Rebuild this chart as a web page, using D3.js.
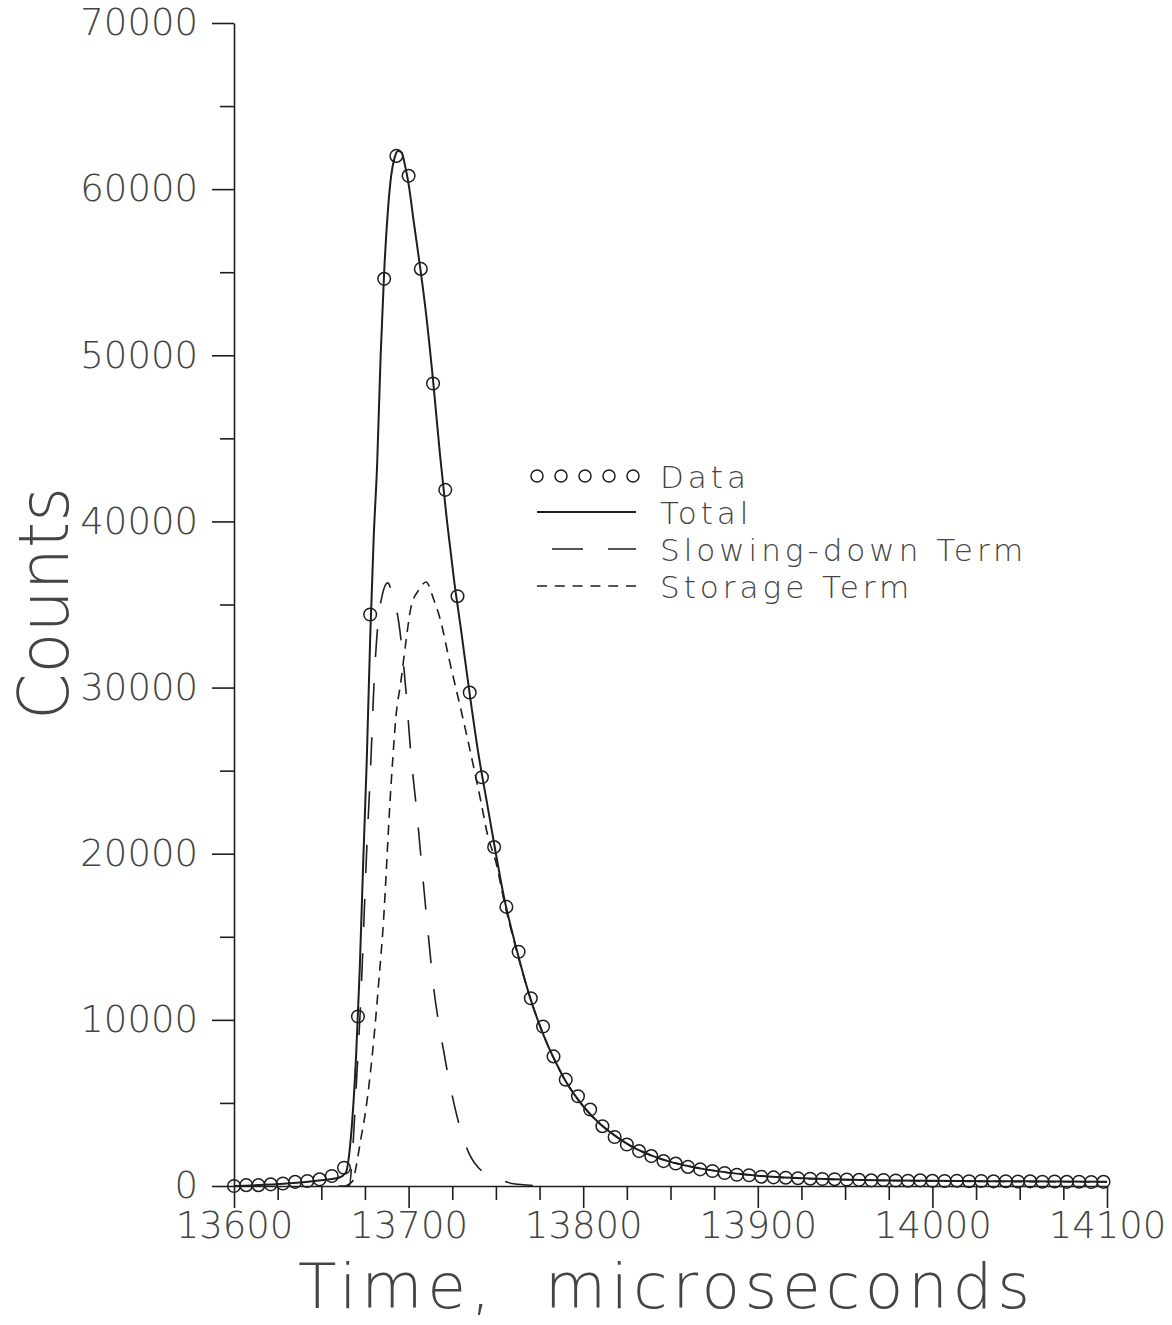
<!DOCTYPE html>
<html>
<head>
<meta charset="utf-8">
<script src="https://cdn.jsdelivr.net/npm/d3@7"></script>
<style>
  html, body { margin: 0; padding: 0; background: #ffffff; }
  svg { display: block; }
</style>
</head>
<body>
<svg id="chart" width="1172" height="1325"></svg>
<script>
// ---------------- DATA ----------------
const dataTime = [13600,13607,13614,13621,13628,13635,13642,13649,13656,13663,
  13671,13678,13686,13693,13700,13707,13714,13721,13728,13735,
  13742,13749,13756,13763,13770,13777,13783,13790,13797,13804,
  13811,13818,13825,13832,13839,13846,13853,13860,13867,13874,
  13881,13888,13895,13902,13909,13916,13923,13930,13937,13944,
  13951,13958,13965,13972,13979,13986,13993,14000,14007,14014,
  14021,14028,14035,14042,14049,14056,14063,14070,14077,14084,
  14091,14098];
const dataCounts = [0,50,50,100,150,250,300,400,600,1100,
  10200,34400,54600,62000,60800,55200,48300,41900,35500,29700,
  24600,20400,16800,14100,11300,9600,7800,6400,5400,4600,
  3600,2950,2500,2100,1800,1500,1350,1150,1000,900,
  780,680,650,560,520,500,470,440,420,410,
  390,370,340,360,330,320,340,310,300,320,
  290,300,280,290,270,280,260,270,250,260,
  240,250];

const totalTime = [13600,13630,13650,13660,13664,13667,13670,13672,13674,13676,
  13678,13680,13682,13684,13686,13688,13690,13692,13694,13696,
  13698,13700,13703,13707,13710,13714,13718,13722,13726,13730,
  13735,13740,13745,13750,13755,13760,13765,13770,13775,13780,
  13785,13790,13795,13800,13810,13820,13830,13840,13850,13860,
  13870,13880,13890,13900,13920,13940,13960,13980,14000,14050,14100];
const totalCounts = [0,150,350,500,800,3000,8000,13000,19500,25500,
  33000,39000,43500,50000,55000,58500,60800,61900,62300,62200,
  61400,60300,58000,55000,52500,48500,44000,40000,36500,33500,
  29600,26000,23000,20000,17200,15000,13000,11200,9700,8400,
  7300,6300,5500,4800,3700,2900,2250,1800,1450,1200,
  1000,850,720,620,490,420,360,330,310,280,250];

const slowTime = [13660,13666,13668,13670,13672.6,13676,13678.4,13680,13682.4,13685,
  13688,13691,13694.4,13698.4,13701.3,13704.7,13707.6,13711,13714.4,13719.6,
  13725.9,13730,13735.6,13740,13747,13761,13780];
const slowCounts = [0,0,2200,6000,11200,20200,25600,29800,33800,35600,
  36300,35500,33900,29900,26000,22500,19200,15400,11900,8400,
  5000,3300,1750,1100,660,120,0];

const storTime = [13664,13668,13670,13672.6,13675.5,13679.5,13683,13686,13687,13689,
  13691,13692.7,13695.5,13698.4,13701.3,13706,13710,13714.4,13718.4,13723,
  13727,13731,13734,13737.3,13741.3,13745.3,13750,13755,13760,13770,
  13780,13790,13800,13820,13840,13860,13880,13900,13940,14000,14100];
const storCounts = [0,300,1200,2800,4600,8200,12400,16600,18500,22500,
  25800,28200,30300,32700,34800,35900,36350,35300,34000,31800,
  30000,28200,26800,25200,23200,21100,19500,17000,14900,11200,
  8400,6300,4800,2900,1800,1200,850,620,400,300,250];

const xMajorTicks = [13600,13700,13800,13900,14000,14100];
const xTickLabels = ["13600","13700","13800","13900","14000","14100"];
const xMinorTicks = [13625,13650,13675,13725,13750,13775,13825,13850,13875,13925,13950,13975,14025,14050,14075];
const yMajorTicks = [0,10000,20000,30000,40000,50000,60000,70000];
const yTickLabels = ["0","10000","20000","30000","40000","50000","60000","70000"];
const yMinorTicks = [5000,15000,25000,35000,45000,55000,65000];

const legendLabels = ["Data","Total","Slowing-down Term","Storage Term"];
const xTitle = "Time,\u00A0\u00A0microseconds";
const yTitle = "Counts";

// ---------------- DRAW ----------------
const svg = d3.select("#chart");
const ink = "#1e1e1e";
const textInk = "#444";
const font = "'DejaVu Sans', sans-serif";

const x = d3.scaleLinear().domain([13600, 14100]).range([234, 1107]);
const y = d3.scaleLinear().domain([0, 70000]).range([1186, 23]);

// axes - minor ticks
const yMinor = svg.append("g").attr("transform", "translate(234,0)")
  .call(d3.axisLeft(y).tickValues(yMinorTicks).tickSize(14).tickSizeOuter(0).tickFormat(""));
const xMinor = svg.append("g").attr("transform", "translate(0,1186)")
  .call(d3.axisBottom(x).tickValues(xMinorTicks).tickSize(14).tickSizeOuter(0).tickFormat(""));
// axes - major ticks
const yAxis = svg.append("g").attr("transform", "translate(234,0)")
  .call(d3.axisLeft(y).tickValues(yMajorTicks).tickSize(22).tickSizeOuter(0).tickPadding(14)
    .tickFormat((d, i) => yTickLabels[i]));
const xAxis = svg.append("g").attr("transform", "translate(0,1186)")
  .call(d3.axisBottom(x).tickValues(xMajorTicks).tickSize(22).tickSizeOuter(0).tickPadding(4)
    .tickFormat((d, i) => xTickLabels[i]));

svg.selectAll(".domain, .tick line").attr("stroke", ink).attr("stroke-width", 1.6);
[yAxis, xAxis].forEach(g => g.selectAll("text")
  .attr("fill", textInk).style("font-family", font).style("font-size", "37px").style("font-weight", 200));
[yMinor, xMinor].forEach(g => g.select(".domain").remove());

// curves
const mkLine = (ts, vs) => d3.line().x((d, i) => x(ts[i])).y((d, i) => y(vs[i])).curve(d3.curveMonotoneX)(ts);

svg.append("path").attr("d", mkLine(storTime, storCounts))
  .attr("fill", "none").attr("stroke", ink).attr("stroke-width", 1.6).attr("stroke-dasharray", "10,7");
svg.append("path").attr("d", mkLine(slowTime, slowCounts))
  .attr("fill", "none").attr("stroke", ink).attr("stroke-width", 1.6).attr("stroke-dasharray", "28,26");
svg.append("path").attr("d", mkLine(totalTime, totalCounts))
  .attr("fill", "none").attr("stroke", ink).attr("stroke-width", 2);

// data circles
svg.append("g").selectAll("circle").data(dataTime).join("circle")
  .attr("cx", (d) => x(d)).attr("cy", (d, i) => y(dataCounts[i])).attr("r", 6.3)
  .attr("fill", "none").attr("stroke", ink).attr("stroke-width", 1.5);

// legend
const lg = svg.append("g");
const rowY = [476, 512, 549, 586];
const symX0 = 537, symX1 = 636;
lg.selectAll("circle").data(d3.range(5)).join("circle")
  .attr("cx", d => 537 + d * 24).attr("cy", rowY[0]).attr("r", 6)
  .attr("fill", "none").attr("stroke", ink).attr("stroke-width", 1.5);
lg.append("line").attr("x1", symX0).attr("x2", symX1).attr("y1", rowY[1]).attr("y2", rowY[1])
  .attr("stroke", ink).attr("stroke-width", 1.8);
lg.append("line").attr("x1", 552).attr("x2", symX1).attr("y1", rowY[2]).attr("y2", rowY[2])
  .attr("stroke", ink).attr("stroke-width", 1.6).attr("stroke-dasharray", "31,25");
lg.append("line").attr("x1", symX0).attr("x2", symX1).attr("y1", rowY[3]).attr("y2", rowY[3])
  .attr("stroke", ink).attr("stroke-width", 1.6).attr("stroke-dasharray", "10,7.8");
lg.selectAll("text").data(legendLabels).join("text")
  .attr("x", 660).attr("y", (d, i) => rowY[i] + 12)
  .attr("fill", textInk).style("font-family", font).style("font-size", "31px").style("font-weight", 200)
  .style("letter-spacing", "4px")
  .text(d => d);

// axis titles
svg.append("text").attr("x", 298).attr("y", 1308)
  .attr("textLength", 732).attr("lengthAdjust", "spacing")
  .attr("fill", textInk).style("font-family", font).style("font-size", "63px").style("font-weight", 200)
  .text(xTitle);
svg.append("text").attr("transform", "translate(68,720) rotate(-90)")
  .attr("x", 0).attr("y", 0)
  .attr("textLength", 233).attr("lengthAdjust", "spacingAndGlyphs")
  .attr("fill", textInk).style("font-family", font).style("font-size", "70px").style("font-weight", 200)
  .text(yTitle);
</script>
</body>
</html>
